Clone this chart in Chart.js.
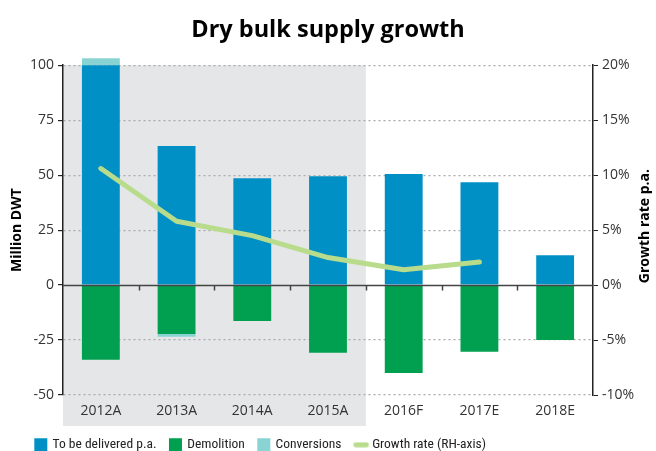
<!DOCTYPE html>
<html>
<head>
<meta charset="utf-8">
<script src="https://cdn.jsdelivr.net/npm/chart.js@4"></script>
<style>
html, body { margin: 0; padding: 0; background: #fff; }
#wrap { width: 656px; height: 451px; }
</style>
</head>
<body>
<div id="wrap"><canvas id="supplyChart"></canvas></div>
<script>
const years = ["2012A", "2013A", "2014A", "2015A", "2016F", "2017E", "2018E"];
const delivered = [100, 63.2, 48.6, 49.5, 50.5, 46.8, 13.6];
const demolition = [-34, -22.3, -16.4, -30.8, -40, -30.3, -25];
const conversions = [3.2, -1.2, 0, 0, 0, 0, 0];
const growthRate = [10.6, 5.8, 4.5, 2.5, 1.4, 2.1, null];
const leftTicks = [-50, -25, 0, 25, 50, 75, 100];
const rightTicks = [-10, -5, 0, 5, 10, 15, 20];
const actualCount = 4;
const rightTitle = "Growth rate p.a.";

const tickFont = { family: "'Open Sans', 'Noto Sans', sans-serif", size: 14 };
const legendFont = { family: "'Liberation Sans Narrow', 'Roboto Condensed', Roboto, sans-serif", size: 13.5 };
const boldFont = { family: "'Open Sans', 'Noto Sans', sans-serif", size: 14, weight: "bold" };

// small rounded stroke used as the legend mark of the growth line
const lineMark = document.createElement("canvas");
lineMark.width = 32;
lineMark.height = 6;
(function () {
    const c = lineMark.getContext("2d");
    c.strokeStyle = "#b8dc8c";
    c.lineWidth = 5;
    c.lineCap = "round";
    c.beginPath();
    c.moveTo(11.5, 3);
    c.lineTo(22, 3);
    c.stroke();
})();

const shadePlugin = {
    id: "shade",
    beforeDraw: function (chart) {
        const area = chart.chartArea;
        const x = chart.scales.x;
        const w = (x.right - x.left) / years.length;
        const ctx = chart.ctx;
        ctx.save();
        ctx.fillStyle = "#e5e6e8";
        ctx.fillRect(area.left, area.top, w * actualCount, area.bottom - area.top + 31);
        ctx.restore();
    }
};

const zeroPlugin = {
    id: "zeroLine",
    afterLayout: function (chart) {
        if (chart.legend) {
            chart.legend.left = 21.8;
            chart.legend.top += 2;
        }
    },
    afterDatasetsDraw: function (chart) {
        const area = chart.chartArea;
        const x = chart.scales.x;
        const y0 = Math.round(chart.scales.y.getPixelForValue(0)) + 0.5;
        const w = (x.right - x.left) / years.length;
        const ctx = chart.ctx;
        ctx.save();
        ctx.strokeStyle = "#444";
        ctx.lineWidth = 1.5;
        ctx.beginPath();
        ctx.moveTo(area.left, y0);
        ctx.lineTo(area.right, y0);
        for (let i = 1; i < years.length; i++) {
            const px = Math.round(area.left + i * w) + 0.5;
            ctx.moveTo(px, y0);
            ctx.lineTo(px, y0 + 5);
        }
        ctx.stroke();
        ctx.restore();
    },
    afterDraw: function (chart) {
        // right axis title reads bottom-to-top in the reference
        const area = chart.chartArea;
        const ctx = chart.ctx;
        ctx.save();
        ctx.translate(chart.width - 11, (area.top + area.bottom) / 2 - 4);
        ctx.rotate(-Math.PI / 2);
        ctx.fillStyle = "#000";
        ctx.font = "bold 14px 'Open Sans', 'Noto Sans', sans-serif";
        ctx.textAlign = "center";
        ctx.textBaseline = "middle";
        ctx.fillText(rightTitle, 0, 0);
        ctx.restore();
    }
};

new Chart(document.getElementById("supplyChart"), {
    data: {
        labels: years,
        datasets: [
            {
                type: "line",
                label: "Growth rate (RH-axis)",
                data: growthRate,
                yAxisID: "y1",
                borderColor: "#b8dc8c",
                backgroundColor: "#b8dc8c",
                borderWidth: 5,
                borderCapStyle: "round",
                borderJoinStyle: "round",
                pointRadius: 0,
                tension: 0,
                order: 0
            },
            {
                type: "bar",
                label: "To be delivered p.a.",
                data: delivered,
                backgroundColor: "#0090c5",
                barPercentage: 0.5,
                categoryPercentage: 1,
                clip: false,
                order: 1
            },
            {
                type: "bar",
                label: "Demolition",
                data: demolition,
                backgroundColor: "#00a050",
                barPercentage: 0.5,
                categoryPercentage: 1,
                clip: false,
                order: 1
            },
            {
                type: "bar",
                label: "Conversions",
                data: conversions,
                backgroundColor: "#8ad3d3",
                barPercentage: 0.5,
                categoryPercentage: 1,
                clip: false,
                order: 1
            }
        ]
    },
    options: {
        responsive: true,
        maintainAspectRatio: false,
        animation: false,
        layout: { padding: 0 },
        plugins: {
            title: {
                display: true,
                text: "Dry bulk supply growth",
                color: "#000",
                font: { family: "'Open Sans', 'Noto Sans', sans-serif", size: 23.5, weight: "bold" },
                padding: { top: 16, bottom: 21 }
            },
            legend: {
                position: "bottom",
                align: "start",
                maxHeight: 29,
                labels: {
                    color: "#222",
                    font: legendFont,
                    usePointStyle: true,
                    boxWidth: 10,
                    boxHeight: 13,
                    padding: 14,
                    generateLabels: function (chart) {
                        const items = Chart.defaults.plugins.legend.labels.generateLabels(chart);
                        items.forEach(function (item) {
                            item.lineWidth = 0;
                            item.strokeStyle = "rgba(0,0,0,0)";
                            item.pointStyle = item.datasetIndex === 0 ? lineMark : "rect";
                        });
                        // growth line goes last, as in the reference
                        return items.slice(1).concat(items.slice(0, 1));
                    }
                }
            },
            tooltip: { enabled: false }
        },
        scales: {
            x: {
                stacked: true,
                grid: { display: false },
                border: { display: false },
                ticks: { color: "#333", font: tickFont, padding: 0 },
                afterFit: function (scale) { scale.height = 27; }
            },
            y: {
                stacked: true,
                position: "left",
                min: -50,
                max: 100,
                afterBuildTicks: function (scale) {
                    scale.ticks = leftTicks.map(function (v) { return { value: v }; });
                },
                grid: {
                    color: function (c) { return c.tick && c.tick.value === 0 ? "rgba(0,0,0,0)" : "#aaa"; },
                    tickColor: "#222",
                    tickLength: 5,
                    tickBorderDash: [],
                    lineWidth: 1.2
                },
                border: { display: true, color: "#222", width: 1.5, dash: [2, 3] },
                ticks: { color: "#333", font: tickFont, padding: 4 },
                title: { display: true, text: "Million DWT", color: "#000", font: boldFont, padding: { top: 9, bottom: 0 } },
                afterFit: function (scale) { scale.width = 63; }
            },
            y1: {
                position: "right",
                min: -10,
                max: 20,
                afterBuildTicks: function (scale) {
                    scale.ticks = rightTicks.map(function (v) { return { value: v }; });
                },
                grid: { drawOnChartArea: false, tickColor: "#222", tickLength: 5 },
                border: { display: true, color: "#222", width: 1.5 },
                ticks: {
                    color: "#333",
                    font: tickFont,
                    padding: 4,
                    callback: function (v) { return v + "%"; }
                },
                afterFit: function (scale) { scale.width = 63; }
            }
        }
    },
    plugins: [shadePlugin, zeroPlugin]
});
</script>
</body>
</html>
